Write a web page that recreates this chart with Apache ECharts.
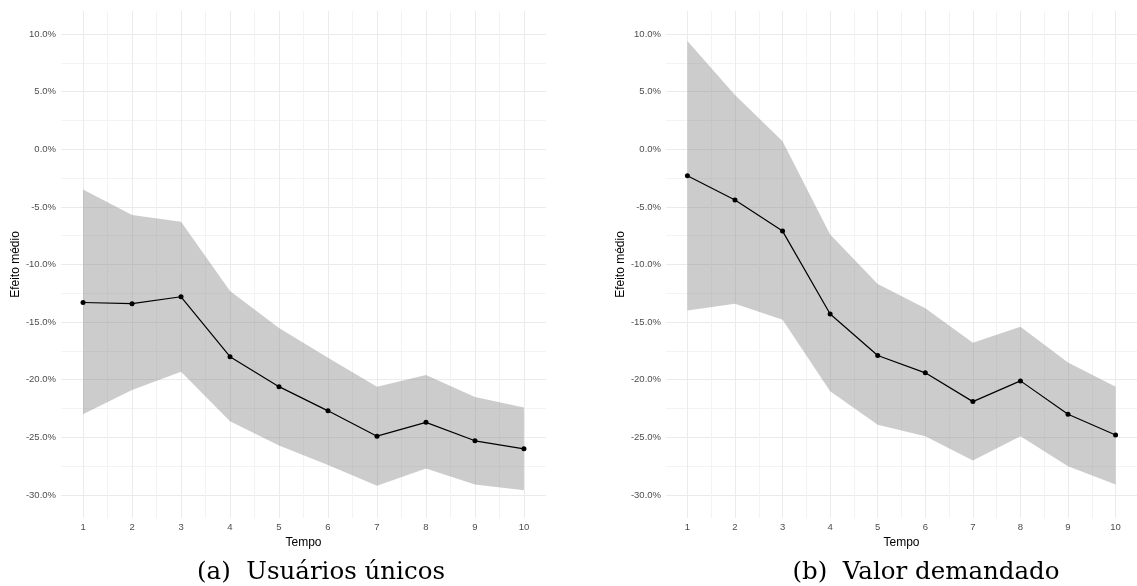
<!DOCTYPE html>
<html>
<head>
<meta charset="utf-8">
<script src="https://cdn.jsdelivr.net/npm/echarts@6/dist/echarts.min.js"></script>
<style>
  html, body { margin: 0; padding: 0; background: #fff; }
  #chart { width: 1137px; height: 586px; }
</style>
</head>
<body>
<div id="chart"></div>
<script>
// tempo 1..10
var tempo = [1, 2, 3, 4, 5, 6, 7, 8, 9, 10];
var yTicks = [-30, -25, -20, -15, -10, -5, 0, 5, 10];
var yMinor = [-27.5, -22.5, -17.5, -12.5, -7.5, -2.5, 2.5, 7.5];
var xMinor = [1.5, 2.5, 3.5, 4.5, 5.5, 6.5, 7.5, 8.5, 9.5];

// (a) usuarios unicos, em %
var efeitoA = [-13.3, -13.4, -12.8, -18.0, -20.6, -22.7, -24.9, -23.7, -25.3, -26.0];
var superiorA = [-3.5, -5.7, -6.3, -12.3, -15.5, -18.1, -20.6, -19.6, -21.5, -22.4];
var inferiorA = [-23.0, -20.9, -19.3, -23.6, -25.7, -27.4, -29.2, -27.7, -29.1, -29.6];

// (b) valor demandado, em %
var efeitoB = [-2.3, -4.4, -7.1, -14.3, -17.9, -19.4, -21.9, -20.1, -23.0, -24.8];
var superiorB = [9.4, 4.7, 0.7, -7.4, -11.7, -13.8, -16.8, -15.4, -18.5, -20.6];
var inferiorB = [-14.0, -13.4, -14.8, -21.0, -23.9, -24.9, -27.0, -24.9, -27.5, -29.1];

var labelFont = "Liberation Sans";

function pares(xs, ys) {
  return xs.map(function (x, i) { return [x, ys[i]]; });
}

function eixoX(grid, principal) {
  return {
    type: "value",
    gridIndex: grid,
    min: 0.55,
    max: 10.45,
    name: principal ? "Tempo" : "",
    nameLocation: "middle",
    nameGap: 13,
    nameTextStyle: { color: "#000", fontSize: 12, fontFamily: labelFont },
    axisLine: { show: false },
    axisTick: { show: false, customValues: principal ? tempo : xMinor },
    axisLabel: {
      show: principal,
      customValues: tempo,
      color: "#4d4d4d",
      fontSize: 9.5,
      fontFamily: labelFont,
      margin: 4,
    },
    splitLine: {
      show: true,
      lineStyle: principal
        ? { color: "#ebebeb", width: 1 }
        : { color: "#f3f3f3", width: 1 },
    },
  };
}

function eixoY(grid, principal, gap) {
  return {
    type: "value",
    gridIndex: grid,
    min: -32,
    max: 12,
    name: principal ? "Efeito médio" : "",
    nameLocation: "middle",
    nameGap: gap,
    nameTextStyle: { color: "#000", fontSize: 12, fontFamily: labelFont },
    axisLine: { show: false },
    axisTick: { show: false, customValues: principal ? yTicks : yMinor },
    axisLabel: {
      show: principal,
      customValues: yTicks,
      color: "#4d4d4d",
      fontSize: 9.5,
      fontFamily: labelFont,
      margin: 5,
      formatter: function (v) {
        return v.toFixed(1) + "%";
      },
    },
    splitLine: {
      show: true,
      lineStyle: principal
        ? { color: "#ebebeb", width: 1 }
        : { color: "#f3f3f3", width: 1 },
    },
  };
}

function series(eixo, efeito, sup, inf) {
  return [
    {
      // faixa de confianca como um poligono
      type: "custom",
      xAxisIndex: eixo,
      yAxisIndex: eixo,
      data: [[tempo[0], sup[0]]],
      silent: true,
      renderItem: function (params, api) {
        var pts = [];
        for (var i = 0; i < tempo.length; i++) {
          pts.push(api.coord([tempo[i], sup[i]]));
        }
        for (var j = tempo.length - 1; j >= 0; j--) {
          pts.push(api.coord([tempo[j], inf[j]]));
        }
        return {
          type: "polygon",
          shape: { points: pts },
          style: { fill: "rgba(127,127,127,0.4)", stroke: null },
        };
      },
      z: 2,
    },
    {
      type: "line",
      xAxisIndex: eixo,
      yAxisIndex: eixo,
      data: pares(tempo, efeito),
      symbol: "circle",
      symbolSize: 5,
      lineStyle: { color: "#000", width: 1.2 },
      itemStyle: { color: "#000" },
      z: 5,
    },
  ];
}

var chartDom = document.getElementById("chart");
var myChart = echarts.init(chartDom, null, { renderer: "canvas" });
var option;

option = {
  animation: false,
  backgroundColor: "#fff",
  title: [
    {
      text: "(a)  Usuários únicos",
      left: 316,
      top: 555,
      textAlign: "center",
      textStyle: { color: "#000", fontSize: 24.5, fontWeight: "normal", fontFamily: "DejaVu Serif" },
    },
    {
      text: "(b)  Valor demandado",
      left: 921,
      top: 555,
      textAlign: "center",
      textStyle: { color: "#000", fontSize: 24.5, fontWeight: "normal", fontFamily: "DejaVu Serif" },
    },
  ],
  grid: [
    { left: 61, top: 11, width: 485, height: 507 },
    { left: 666, top: 11, width: 485, height: 507 },
  ],
  xAxis: [eixoX(0, true), eixoX(0, false), eixoX(1, true), eixoX(1, false)],
  yAxis: [eixoY(0, true, 33), eixoY(0, false, 33), eixoY(1, true, 37), eixoY(1, false, 37)],
  series: []
    .concat(series(0, efeitoA, superiorA, inferiorA))
    .concat(series(2, efeitoB, superiorB, inferiorB)),
};

option && myChart.setOption(option);
</script>
</body>
</html>
